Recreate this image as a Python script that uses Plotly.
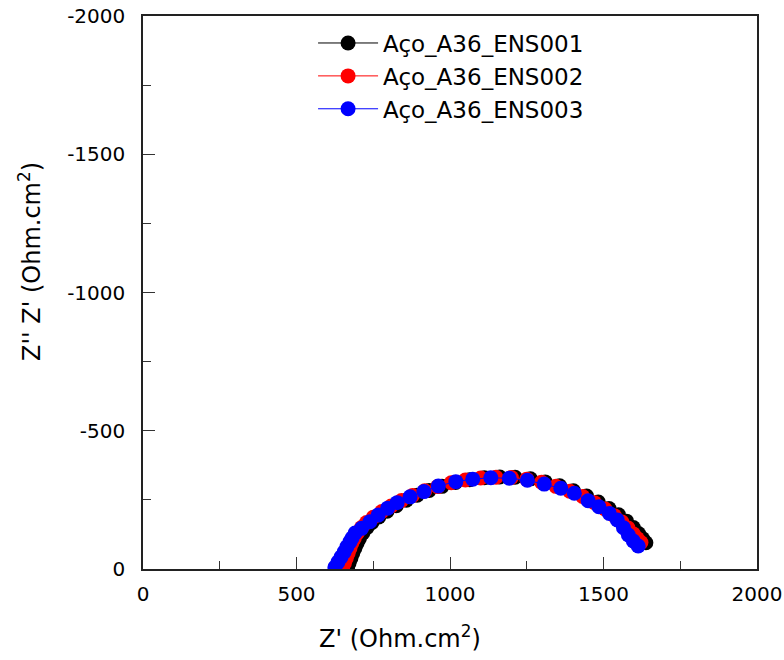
import plotly.graph_objects as go

names = ["Aço_A36_ENS001", "Aço_A36_ENS002", "Aço_A36_ENS003"]
colors = ["#000000", "#ff0000", "#0000ff"]

zr_1 = [666, 671, 677, 683, 690, 697, 705, 716, 730, 746, 768, 795, 825, 858, 893, 932, 974, 1018,
        1064, 1112, 1162, 1212, 1262, 1310, 1357, 1402, 1445, 1483, 1518, 1549, 1575, 1597, 1614, 1627, 1638]
zi_1 = [-3, -20, -38, -56, -74, -92, -110, -130, -150, -168, -188, -209, -229, -249, -267, -284, -299, -313,
        -323, -330, -333, -332, -326, -315, -301, -283, -264, -242, -219, -196, -173, -150, -128, -110, -95]

zr_2 = [650, 656, 662, 668, 674, 680, 688, 698, 712, 728, 750, 778, 808, 842, 878, 918, 960, 1004,
        1050, 1100, 1150, 1200, 1250, 1298, 1345, 1390, 1432, 1470, 1505, 1535, 1560, 1580, 1597, 1610, 1622]
zi_2 = [-4, -20, -38, -56, -74, -92, -110, -130, -150, -168, -187, -208, -228, -248, -266, -283, -298, -312,
        -322, -329, -332, -331, -325, -314, -299, -281, -262, -240, -217, -193, -170, -148, -127, -110, -96]

zr_3 = [625, 635, 645, 655, 664, 674, 681, 691, 712, 739, 766, 797, 828, 870, 915, 962, 1019, 1074,
        1133, 1193, 1252, 1307, 1361, 1405, 1450, 1485, 1519, 1545, 1565, 1581, 1597, 1613]
zi_3 = [-6, -25, -43, -61, -80, -98, -112, -130, -147, -171, -195, -220, -240, -261, -280, -300, -316, -325,
        -330, -328, -321, -307, -292, -274, -247, -225, -201, -177, -149, -123, -101, -83]

tick_vals = [0, 500, 1000, 1500, 2000]
y_tick_vals = [0, -500, -1000, -1500, -2000]
y_tick_text = ["0", "-500", "-1000", "-1500", "-2000"]

x_title = "Z' (Ohm.cm<sup>2</sup>)"
y_title = "Z'' Z' (Ohm.cm<sup>2</sup>)"

fig = go.Figure()
for nm, col, xs, ys in [(names[0], colors[0], zr_1, zi_1),
                        (names[1], colors[1], zr_2, zi_2),
                        (names[2], colors[2], zr_3, zi_3)]:
    fig.add_trace(go.Scatter(x=xs, y=ys, name=nm, mode="lines+markers",
                             line=dict(color=col, width=1),
                             marker=dict(color=col, size=15, line=dict(width=0))))

font_family = "DejaVu Sans, Liberation Sans, Arial, sans-serif"
axis_common = dict(ticks="inside", ticklen=12, tickwidth=1, tickcolor="#333", showline=True,
                   linecolor="#222", linewidth=1.5, mirror=True, showgrid=False, zeroline=False,
                   automargin=False,
                   minor=dict(dtick=250, tick0=0, ticks="inside", ticklen=8, tickcolor="#333",
                              showgrid=False))
fig.update_layout(
    width=784, height=660,
    margin=dict(l=143, r=27, t=16, b=91),
    paper_bgcolor="white", plot_bgcolor="white",
    font=dict(family=font_family, size=20, color="black"),
    showlegend=True,
    legend=dict(x=0.277, y=0.99, xanchor="left", yanchor="top", itemwidth=60,
                bgcolor="rgba(0,0,0,0)", font=dict(size=23)),
    xaxis=dict(range=[0, 2000], tickvals=tick_vals, ticklabelstandoff=6, **axis_common),
    yaxis=dict(range=[0, -2000], tickvals=y_tick_vals, ticktext=y_tick_text, ticklabelstandoff=12,
               **axis_common),
    annotations=[
        dict(text=x_title, xref="paper", yref="paper", x=(400 - 143) / 614, y=(569 - 637) / 553,
             xanchor="center", yanchor="middle", showarrow=False, font=dict(size=24)),
        dict(text=y_title, xref="paper", yref="paper", x=(30 - 143) / 614, y=(569 - 262) / 553,
             xanchor="center", yanchor="middle", textangle=-90, showarrow=False, font=dict(size=24)),
    ],
)

fig.write_html("out.html")
